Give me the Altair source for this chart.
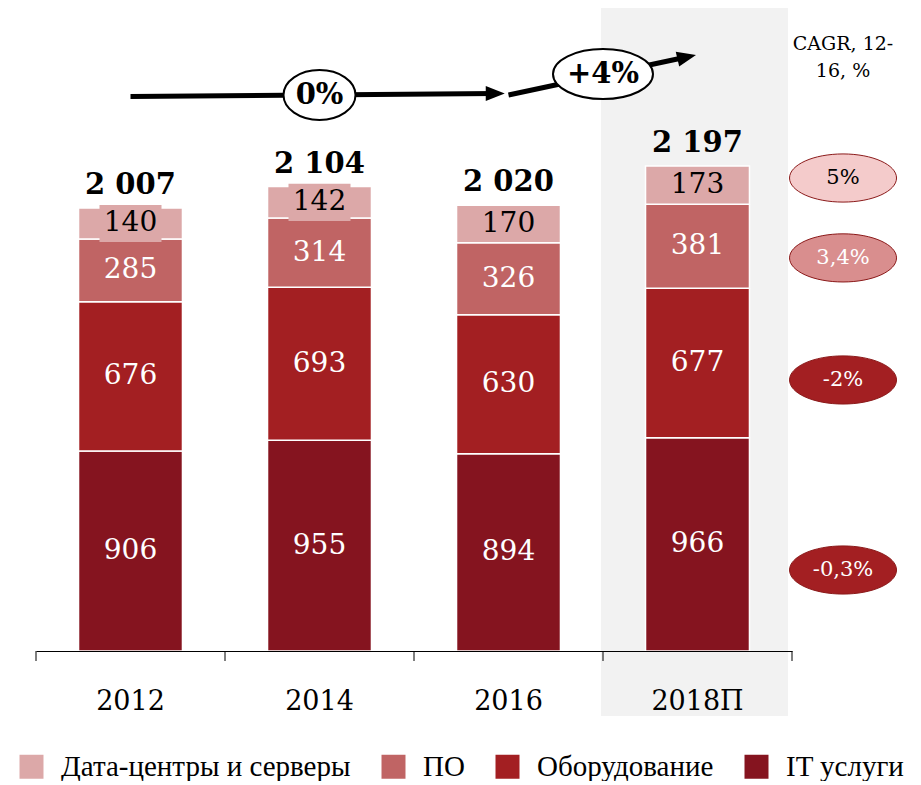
import altair as alt
import pandas as pd

# ---------------- data ----------------
years = ["2012", "2014", "2016", "2018П"]
it_services = [906, 955, 894, 966]
hardware = [676, 693, 630, 677]
software = [285, 314, 326, 381]
datacenters = [140, 142, 170, 173]
totals = [2007, 2104, 2020, 2197]

categories = ["Дата-центры и серверы", "ПО", "Оборудование", "IT услуги"]
cat_colors = ["#dca8a8", "#c06464", "#a31f22", "#85141f"]

cagr_labels = ["5%", "3,4%", "-2%", "-0,3%"]
cagr_level = [2143, 1781, 1228, 367]
cagr_fill = ["#f4cbcb", "#d98e8e", "#a31f22", "#a31f22"]
cagr_text = ["#000000", "#ffffff", "#ffffff", "#ffffff"]
cagr_title = "CAGR, 12-\n16, %"

growth_labels = ["0%", "+4%"]
growth_pos = [1.5, 3.0]
growth_level = [2519, 2614]

arrow_x0 = [0.5, 2.5]
arrow_x1 = [2.43, 3.443]
arrow_y0 = [2512, 2519]
arrow_y1 = [2526, 2691]
arrow_angle = [0, 347]

band_edges = [0, 1, 2, 3, 4]

SERIF = "DejaVu Serif"

# ---------------- tables ----------------
rows = []
for i, yr in enumerate(years):
    base = 0
    for ordv, (cat, vals) in enumerate(
        [("IT услуги", it_services), ("Оборудование", hardware),
         ("ПО", software), ("Дата-центры и серверы", datacenters)]
    ):
        v = vals[i]
        rows.append(dict(year=yr, cat=cat, value=v, ord=ordv,
                         mid=base + v / 2,
                         tcolor="#000000" if ordv == 3 else "#ffffff"))
        base += v
seg = pd.DataFrame(rows)
tot = pd.DataFrame(dict(year=years, total=totals,
                        label=[f"{t:,}".replace(",", " ") for t in totals]))
cagr = pd.DataFrame(dict(gx=[4.27] * 4, gy=cagr_level, label=cagr_labels,
                         fill=cagr_fill, tcolor=cagr_text))
growth = pd.DataFrame(dict(gx=growth_pos, gy=growth_level, label=growth_labels))
arrows = pd.DataFrame(dict(x0=arrow_x0, x1=arrow_x1, y0=arrow_y0, y1=arrow_y1,
                           angle=arrow_angle))
title_df = pd.DataFrame(dict(gx=[4.27], gy=[2748], label=[cagr_title]))
edges = pd.DataFrame(dict(gx=band_edges))

y_scale = alt.Scale(domain=[0, 2800], nice=False, zero=True)
xband_scale = alt.Scale(domain=years, paddingInner=0.45, paddingOuter=0.225)
gx_scale = alt.Scale(domain=[0, 4], nice=False, zero=False)


def ellipse_path(ratio):
    k = 0.5523
    r = ratio
    return (f"M1,0 C1,{k*r:.4f} {k:.4f},{r:.4f} 0,{r:.4f} "
            f"C{-k:.4f},{r:.4f} -1,{k*r:.4f} -1,0 "
            f"C-1,{-k*r:.4f} {-k:.4f},{-r:.4f} 0,{-r:.4f} "
            f"C{k:.4f},{-r:.4f} 1,{-k*r:.4f} 1,0 Z")


# ---------------- layers ----------------
bg = alt.Chart(pd.DataFrame({"a": [0]})).mark_rect(color="#f2f2f2").encode(
    x=alt.value(565), x2=alt.value(752), y=alt.value(-25), y2=alt.value(683)
)

x_axis = alt.Axis(title=None, labelAngle=0, labelFont=SERIF, labelFontSize=27,
                  labelColor="#000000", domainColor="#000000", domainWidth=1,
                  ticks=False, tickSize=0, labelPadding=37, grid=False,
                  zindex=1)

xband = alt.X("year:N", sort=years, scale=xband_scale, axis=x_axis)

bars = alt.Chart(seg).mark_bar(stroke="#ffffff", strokeWidth=1.5).encode(
    x=xband,
    y=alt.Y("value:Q", stack="zero", scale=y_scale, axis=None),
    color=alt.Color(
        "cat:N",
        scale=alt.Scale(domain=categories, range=cat_colors),
        legend=alt.Legend(
            title=None, orient="none", legendX=-19, legendY=719,
            direction="horizontal", symbolType="square", symbolSize=576,
            symbolStrokeWidth=0, symbolOpacity=1, labelFont="Liberation Serif",
            labelFontSize=29, labelColor="#000000", labelOffset=15,
            columnPadding=28, labelLimit=600, padding=0,
        ),
    ),
    order=alt.Order("ord:Q"),
)

# label background only where the top segment is thinner than its label
top_seg = seg[(seg["ord"] == 3) & (seg["value"] < 160)]
label_box = alt.Chart(top_seg).mark_point(
    shape="M-1,-0.6 L1,-0.6 L1,0.6 L-1,0.6 Z", size=3844, filled=True,
    opacity=1, color="#dca8a8"
).encode(
    x=xband,
    y=alt.Y("mid:Q", scale=y_scale, axis=None),
)

seg_text = alt.Chart(seg).mark_text(font=SERIF, fontSize=28, baseline="middle").encode(
    x=xband,
    y=alt.Y("mid:Q", scale=y_scale, axis=None),
    text="value:Q",
    color=alt.Color("tcolor:N", scale=None, legend=None),
)

tot_text = alt.Chart(tot).mark_text(font=SERIF, fontSize=29, fontWeight="bold",
                                    baseline="alphabetic", dy=-14,
                                    color="#000000").encode(
    x=xband,
    y=alt.Y("total:Q", scale=y_scale, axis=None),
    text="label:N",
)

edge_ticks = alt.Chart(edges).mark_rule(color="#000000", strokeWidth=1).encode(
    x=alt.X("gx:Q", scale=gx_scale, axis=None),
    y=alt.value(618), y2=alt.value(628),
)

arrow_lines = alt.Chart(arrows).mark_rule(strokeWidth=5, color="#000000").encode(
    x=alt.X("x0:Q", scale=gx_scale, axis=None),
    x2="x1:Q",
    y=alt.Y("y0:Q", scale=y_scale, axis=None),
    y2="y1:Q",
)

arrow_heads = alt.Chart(arrows).mark_point(
    shape="M1,0 L-1,-0.8 L-1,0.8 Z", size=361, filled=True, opacity=1,
    color="#000000"
).encode(
    x=alt.X("x1:Q", scale=gx_scale, axis=None),
    y=alt.Y("y1:Q", scale=y_scale, axis=None),
    angle=alt.Angle("angle:Q", scale=None),
)

growth_e1 = alt.Chart(growth.iloc[[0]]).mark_point(
    shape=ellipse_path(0.694), size=5184, filled=True, opacity=1,
    fill="#ffffff", stroke="#000000", strokeWidth=2
).encode(
    x=alt.X("gx:Q", scale=gx_scale, axis=None),
    y=alt.Y("gy:Q", scale=y_scale, axis=None),
)
growth_e2 = alt.Chart(growth.iloc[[1]]).mark_point(
    shape=ellipse_path(0.5), size=10000, filled=True, opacity=1,
    fill="#ffffff", stroke="#000000", strokeWidth=2
).encode(
    x=alt.X("gx:Q", scale=gx_scale, axis=None),
    y=alt.Y("gy:Q", scale=y_scale, axis=None),
)
growth_text = alt.Chart(growth).mark_text(
    font=SERIF, fontSize=29, fontWeight="bold", baseline="middle", color="#000000"
).encode(
    x=alt.X("gx:Q", scale=gx_scale, axis=None),
    y=alt.Y("gy:Q", scale=y_scale, axis=None),
    text="label:N",
)

cagr_e = alt.Chart(cagr).mark_point(
    shape=ellipse_path(0.45), size=11449, filled=True, opacity=1,
    stroke="#8b1a1a", strokeWidth=1
).encode(
    x=alt.X("gx:Q", scale=gx_scale, axis=None),
    y=alt.Y("gy:Q", scale=y_scale, axis=None),
    fill=alt.Fill("fill:N", scale=None, legend=None),
)
cagr_t = alt.Chart(cagr).mark_text(font=SERIF, fontSize=21, baseline="middle").encode(
    x=alt.X("gx:Q", scale=gx_scale, axis=None),
    y=alt.Y("gy:Q", scale=y_scale, axis=None),
    text="label:N",
    color=alt.Color("tcolor:N", scale=None, legend=None),
)
cagr_head = alt.Chart(title_df).mark_text(
    font=SERIF, fontSize=19, baseline="middle", lineBreak="\n", lineHeight=27,
    color="#000000"
).encode(
    x=alt.X("gx:Q", scale=gx_scale, axis=None),
    y=alt.Y("gy:Q", scale=y_scale, axis=None),
    text="label:N",
)

band_part = alt.layer(bars, label_box, seg_text, tot_text)
annot_part = alt.layer(edge_ticks, arrow_lines, arrow_heads, growth_e1, growth_e2,
                       growth_text, cagr_e, cagr_t, cagr_head)

chart = alt.layer(bg, band_part, annot_part).resolve_scale(
    x="independent"
).properties(
    width=756, height=618,
    padding={"left": 28, "top": 25, "right": 113, "bottom": 130},
    autosize=alt.AutoSizeParams(type="none"),
    background="#ffffff",
).configure_view(stroke=None)

chart.save("out.html", embed_options={"renderer": "svg", "actions": False})
